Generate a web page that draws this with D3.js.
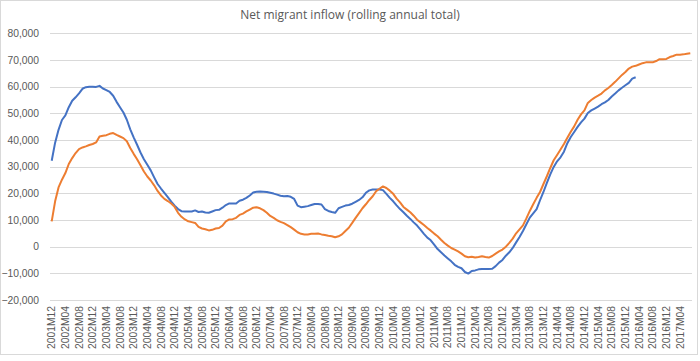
<!DOCTYPE html>
<html>
<head>
<meta charset="utf-8">
<script src="https://cdn.jsdelivr.net/npm/d3@7"></script>
<style>
  body { margin: 0; background: #fff; }
  svg { display: block; font-family: "Open Sans", "Noto Sans", sans-serif; }
  .axis text { fill: #595959; }
  .axis path, .axis line { display: none; }
</style>
</head>
<body>
<div id="chart"></div>
<script>
// chart title
var title = "Net migrant inflow (rolling annual total)";

// first month of the category axis and number of months
var startYear = 2001, startMonth = 12, monthCount = 188;

// y axis ticks
var yTicks = [-20000, -10000, 0, 10000, 20000, 30000, 40000, 50000, 60000, 70000, 80000];

// blue series, 2001M12 .. 2016M03
var blueValues = [
  32200, 39000, 43800, 47500, 49200, 52300, 54700, 56000, 57500, 59200,
  59800, 60000, 60000, 59900, 60300, 59300, 58700, 58000, 56600, 54300,
  52300, 50300, 47600, 44000, 41000, 38200, 35300, 32800, 30700, 28600,
  26000, 23500, 21800, 20200, 18600, 16900, 15400, 14100, 13300, 13200,
  13200, 13200, 13600, 13000, 13200, 12800, 12700, 13200, 13700, 13800,
  14600, 15600, 16200, 16200, 16200, 17200, 17600, 18300, 19200, 20300,
  20600, 20700, 20600, 20500, 20200, 19900, 19500, 19100, 18900, 19000,
  18700, 17900, 15400, 14800, 15000, 15200, 15600, 16000, 16000, 15800,
  14100, 13400, 13000, 12700, 14400, 14900, 15400, 15600, 16100, 16800,
  17500, 18500, 20200, 21100, 21400, 21400, 21400, 21200, 19800, 18300,
  17000, 15500, 14100, 12900, 11600, 10400, 9100, 7900, 6400, 4800,
  3400, 2400, 800, -900, -2100, -3300, -4400, -5500, -6800, -7600,
  -8100, -9500, -10100, -9100, -8900, -8500, -8400, -8400, -8400, -8300,
  -7300, -6000, -5000, -3400, -2100, -500, 1600, 3600, 5900, 8400,
  10900, 12500, 14100, 17400, 20500, 23900, 27100, 29900, 32000, 33500,
  35600, 38800, 41100, 43000, 44900, 46600, 48000, 50100, 51100, 51800,
  52500, 53400, 54100, 55000, 56300, 57400, 58600, 59600, 60500, 61400,
  63000, 63500
];

// orange series, 2001M12 .. 2017M07
var orangeValues = [
  9500, 17000, 22200, 25100, 27600, 31000, 33200, 35100, 36600, 37200,
  37600, 38100, 38500, 39100, 41300, 41600, 41800, 42300, 42600, 41900,
  41300, 40700, 39500, 37000, 34800, 32800, 30500, 28200, 26300, 24800,
  23000, 20900, 19200, 17900, 17100, 16200, 14900, 12700, 11200, 10200,
  9500, 9200, 8900, 7400, 6800, 6500, 6100, 6300, 6800, 7000,
  7900, 9500, 10200, 10300, 10800, 11900, 12400, 13200, 13900, 14600,
  14800, 14400, 13700, 12700, 11500, 10800, 9900, 9300, 8800, 8100,
  7300, 6400, 5400, 4800, 4600, 4600, 4800, 4800, 4900, 4600,
  4400, 4100, 3900, 3500, 3900, 4600, 5900, 7100, 8900, 10800,
  12600, 14400, 15900, 17500, 18900, 20800, 21700, 22600, 22000, 21000,
  19800, 18000, 16600, 14900, 13900, 12900, 11600, 10100, 9100, 8100,
  7000, 6000, 4900, 3900, 2600, 1400, 400, -500, -1100, -1800,
  -2600, -3600, -4000, -3800, -4100, -3900, -3600, -3900, -4100, -3500,
  -2600, -1800, -1100, 0, 1400, 3000, 5000, 6500, 8000, 10600,
  13400, 15900, 18300, 20500, 23500, 26400, 29500, 32400, 34400, 36400,
  38500, 40800, 43100, 45100, 47600, 49600, 51100, 53900, 55000, 55900,
  56600, 57400, 58600, 59500, 60600, 61800, 63100, 64400, 65500, 66800,
  67500, 67800, 68300, 68800, 69100, 69100, 69100, 69600, 70300, 70300,
  70400, 71100, 71500, 72000, 72000, 72100, 72300, 72500
];

// month labels like 2001M12
var months = [];
for (var k = 0; k < monthCount; k++) {
  var m = startMonth - 1 + k;
  var yr = startYear + Math.floor(m / 12);
  var mo = (m % 12) + 1;
  months.push(yr + "M" + (mo < 10 ? "0" + mo : mo));
}
// every fourth month gets a label
var monthTicks = months.filter(function(d, i) { return i % 4 === 0; });

var width = 700, height = 361;
var plot = {left: 50, right: 692, top: 33.3, bottom: 300};

var svg = d3.select("#chart").append("svg")
  .attr("width", width)
  .attr("height", height);

// outer border
svg.append("rect")
  .attr("x", 0.5).attr("y", 0.5)
  .attr("width", 697).attr("height", 354)
  .attr("fill", "#fff")
  .attr("stroke", "#d9d9d9");

// scales
var xScale = d3.scaleBand().domain(months).range([plot.left, plot.right]).padding(0);
var yScale = d3.scaleLinear().domain([-20000, 80000]).range([plot.bottom, plot.top]);
var xMid = function(d) { return xScale(d) + xScale.bandwidth() / 2; };

// gridlines
svg.append("g")
  .selectAll("line")
  .data(yTicks)
  .enter().append("line")
  .attr("x1", plot.left).attr("x2", plot.right)
  .attr("y1", function(d) { return Math.round(yScale(d)) + 0.5; })
  .attr("y2", function(d) { return Math.round(yScale(d)) + 0.5; })
  .attr("stroke", "#d9d9d9")
  .attr("stroke-width", 1);

// y axis
var yAxis = d3.axisLeft(yScale)
  .tickValues(yTicks)
  .tickSize(0)
  .tickPadding(0)
  .tickFormat(d3.format(","));

svg.append("g")
  .attr("class", "axis")
  .attr("transform", "translate(39,0)")
  .call(yAxis)
  .selectAll("text")
  .style("font-size", "10.3px");

// x axis, rotated labels
var xAxis = d3.axisBottom(xScale)
  .tickValues(monthTicks)
  .tickSize(0)
  .tickPadding(0);

svg.append("g")
  .attr("class", "axis")
  .attr("transform", "translate(0," + 306 + ")")
  .call(xAxis)
  .selectAll("text")
  .style("font-size", "10.3px")
  .attr("transform", "rotate(-90)")
  .attr("text-anchor", "end")
  .attr("x", 0)
  .attr("y", 0)
  .attr("dx", 0)
  .attr("dy", "0.35em");

// lines
var line = d3.line()
  .x(function(d, i) { return xMid(months[i]); })
  .y(function(d) { return yScale(d); });

svg.append("path")
  .datum(blueValues)
  .attr("fill", "none")
  .attr("stroke", "#4472c4")
  .attr("stroke-width", 2)
  .attr("stroke-linejoin", "round")
  .attr("d", line);

svg.append("path")
  .datum(orangeValues)
  .attr("fill", "none")
  .attr("stroke", "#ed7d31")
  .attr("stroke-width", 2)
  .attr("stroke-linejoin", "round")
  .attr("d", line);

// title
svg.append("text")
  .attr("x", 350)
  .attr("y", 19)
  .attr("text-anchor", "middle")
  .attr("fill", "#595959")
  .style("font-size", "12px")
  .text(title);
</script>
</body>
</html>
